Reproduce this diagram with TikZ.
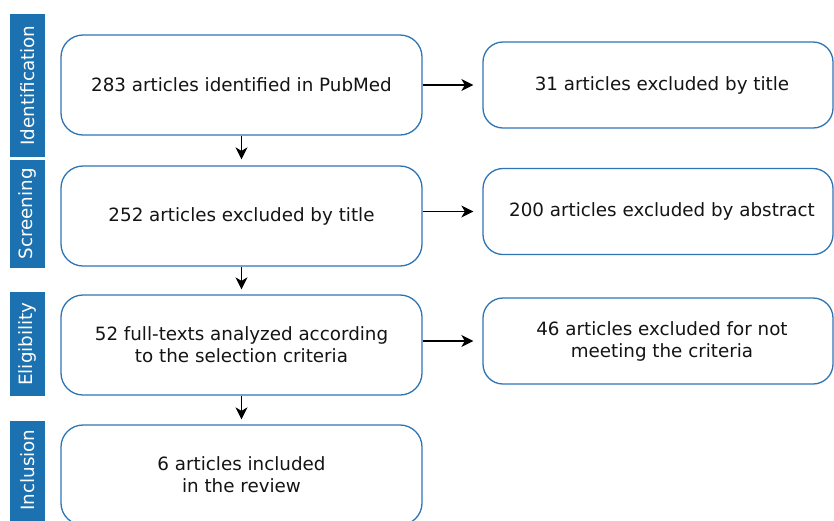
\documentclass[tikz,border=0pt]{standalone}
\usepackage{fontspec}
\setmainfont{DejaVu Sans}
\usetikzlibrary{arrows.meta}
\definecolor{boxblue}{RGB}{46,117,182}
\definecolor{barblue}{RGB}{28,114,176}
\definecolor{txt}{RGB}{20,20,20}
\tikzset{
  mainbox/.style={draw=boxblue, line width=1.3pt, rounded corners=22pt, fill=white,
    minimum width=361pt, minimum height=100pt, align=center, text=txt,
    font=\fontsize{18.3}{22}\selectfont, inner sep=0pt},
  sidebox/.style={draw=boxblue, line width=1.3pt, rounded corners=20pt, fill=white,
    minimum width=350pt, minimum height=86pt, align=center, text=txt,
    font=\fontsize{18.3}{22}\selectfont, inner sep=0pt},
  phasebar/.style={fill=barblue, minimum width=35pt, inner sep=0pt},
  phasetext/.style={rotate=90, text=white, font=\fontsize{18.3}{21}\selectfont},
  flow/.style={-{Stealth[length=12pt,width=12pt,inset=3.5pt]}, line width=1.4pt, black}
}
\begin{document}
\begin{tikzpicture}[x=1pt,y=-1pt]
\useasboundingbox (0,0) rectangle (834,520);
% phase bars
\node[phasebar, minimum height=143pt] (p1) at (27.5,85.5) {};
\node[phasetext] (p1t) at (p1.center) {Identification};
\node[phasebar, minimum height=108pt] (p2) at (27.5,214) {};
\node[phasetext] (p2t) at (p2.center) {Screening};
\node[phasebar, minimum height=104pt] (p3) at (27.5,344) {};
\node[phasetext] (p3t) at (p3.center) {Eligibility};
\node[phasebar, minimum height=104pt] (p4) at (27.5,473) {};
\node[phasetext] (p4t) at (27.5,470) {Inclusion};
% main boxes
\node[mainbox] (b1) at (241.5,85) {283 articles identified in PubMed};
\node[mainbox] (b2) at (241.5,216) {252 articles excluded by title};
\node[mainbox] (b3) at (241.5,345) {52 full-texts analyzed according\\to the selection criteria};
\node[mainbox] (b4) at (241.5,475) {6 articles included\\in the review};
% side boxes
\node[sidebox] (s1) at (658,85) {\hspace*{8pt}31 articles excluded by title};
\node[sidebox] (s2) at (658,211.5) {\hspace*{8pt}200 articles excluded by abstract};
\node[sidebox] (s3) at (658,341) {\hspace*{8pt}46 articles excluded for not\\\hspace*{8pt}meeting the criteria};
% arrows
\draw[flow, shorten >=6pt] (b1.south) -- (b2.north);
\draw[flow, shorten >=5pt] (b2.south) -- (b3.north);
\draw[flow, shorten >=5pt] (b3.south) -- (b4.north);
\draw[flow, shorten >=9pt] (b1.east |- s1.west) -- (s1.west);
\draw[flow, shorten >=9pt] (b2.east |- s2.west) -- (s2.west);
\draw[flow, shorten >=9pt] (b3.east |- s3.west) -- (s3.west);
\end{tikzpicture}
\end{document}
